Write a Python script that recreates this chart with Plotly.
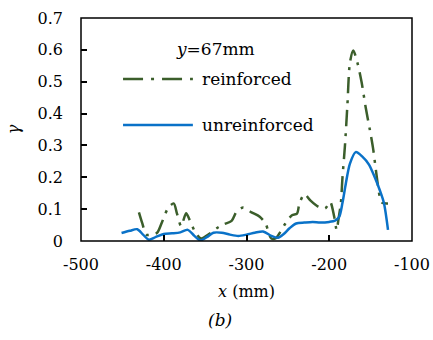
import plotly.graph_objects as go

# unreinforced (blue, solid)
x_unreinforced = [-451, -441, -432, -425, -418, -410, -400, -390, -380, -371, -363, -356, -348,
                  -340, -330, -320, -310, -300, -290, -280, -270, -262, -255, -248, -240, -230,
                  -220, -211, -200, -193, -188, -184, -180, -175, -168, -160, -152, -145, -139,
                  -134, -129]
y_unreinforced = [0.025, 0.032, 0.037, 0.020, 0.004, 0.012, 0.022, 0.024, 0.027, 0.035, 0.016,
                  0.002, 0.012, 0.026, 0.026, 0.020, 0.016, 0.020, 0.026, 0.030, 0.016, 0.010,
                  0.022, 0.040, 0.055, 0.058, 0.060, 0.058, 0.060, 0.064, 0.076, 0.120, 0.180,
                  0.243, 0.279, 0.265, 0.240, 0.200, 0.160, 0.120, 0.035]

# reinforced (green, dash-dot)
x_reinforced = [-430, -426, -421, -415, -408, -402, -395, -388, -384, -379, -373, -369, -362,
                -355, -344, -336, -328, -318, -312, -304, -294, -284, -277, -270, -264, -259,
                -253, -245, -239, -236, -230, -223, -214, -205, -199, -194, -191, -189, -186,
                -184, -181, -178, -175, -171, -166, -161, -156, -151, -147, -143, -139, -136,
                -129]
y_reinforced = [0.090, 0.056, 0.020, 0.020, 0.026, 0.060, 0.102, 0.118, 0.086, 0.047, 0.087,
                0.068, 0.028, 0.008, 0.024, 0.040, 0.052, 0.063, 0.092, 0.105, 0.090, 0.076,
                0.055, 0.008, 0.010, 0.029, 0.055, 0.081, 0.086, 0.118, 0.147, 0.128, 0.109,
                0.102, 0.123, 0.076, 0.034, 0.066, 0.118, 0.200, 0.300, 0.430, 0.560, 0.598,
                0.560, 0.500, 0.420, 0.350, 0.290, 0.210, 0.140, 0.120, 0.118]

x_ticks = [-500, -400, -300, -200, -100]
y_ticks = [0, 0.1, 0.2, 0.3, 0.4, 0.5, 0.6, 0.7]

GREEN = "#3B5E2B"
BLUE = "#0A72C8"
FONT = "DejaVu Serif"
DASHDOT = "16px,7px,3px,7px"

fig = go.Figure()
fig.add_trace(go.Scatter(x=x_reinforced, y=y_reinforced, mode="lines", name="reinforced",
                         line=dict(color=GREEN, width=2.5, dash=DASHDOT, shape="spline", smoothing=0.8),
                         showlegend=False))
fig.add_trace(go.Scatter(x=x_unreinforced, y=y_unreinforced, mode="lines", name="unreinforced",
                         line=dict(color=BLUE, width=2.5, shape="spline", smoothing=0.8),
                         showlegend=False))

# plot frame
fig.add_shape(type="rect", xref="paper", yref="paper", x0=0, x1=1, y0=0, y1=1,
              line=dict(color="black", width=1.5), layer="above")

# legend samples (drawn manually to match the original look)
fig.add_shape(type="line", xref="paper", yref="paper", x0=0.127, x1=0.338, y0=0.726, y1=0.726,
              line=dict(color=GREEN, width=2.5, dash="20px,8px,3px,8px"))
fig.add_shape(type="line", xref="paper", yref="paper", x0=0.127, x1=0.338, y0=0.52, y1=0.52,
              line=dict(color=BLUE, width=2.5))
fig.add_annotation(xref="paper", yref="paper", x=0.36, y=0.726, text="reinforced",
                   showarrow=False, xanchor="left", yanchor="middle",
                   font=dict(family=FONT, size=17, color="black"))
fig.add_annotation(xref="paper", yref="paper", x=0.36, y=0.52, text="unreinforced",
                   showarrow=False, xanchor="left", yanchor="middle",
                   font=dict(family=FONT, size=17, color="black"))
fig.add_annotation(xref="paper", yref="paper", x=0.405, y=0.86, text="<i>y</i>=67mm",
                   showarrow=False, xanchor="center", yanchor="middle",
                   font=dict(family=FONT, size=17, color="black"))
# panel label
fig.add_annotation(xref="paper", yref="paper", x=0.42, y=-0.355, text="<i>(b)</i>",
                   showarrow=False, xanchor="center", yanchor="middle",
                   font=dict(family=FONT, size=17, color="black"))

fig.update_layout(
    width=433, height=340,
    margin=dict(l=81, r=21, t=18, b=99),
    paper_bgcolor="white", plot_bgcolor="white",
    font=dict(family=FONT, size=16, color="black"),
    xaxis=dict(range=[-500, -100], tickvals=x_ticks, ticktext=[str(v) for v in x_ticks],
               automargin=False,
               showgrid=False, zeroline=False, showline=False,
               ticks="inside", ticklen=6, tickwidth=1.5,
               tickcolor="black", ticklabelstandoff=12,
               title=dict(text="<i>x</i> (mm)", standoff=12, font=dict(size=16))),
    yaxis=dict(range=[0, 0.7], tickvals=y_ticks, ticktext=["0", "0.1", "0.2", "0.3", "0.4", "0.5", "0.6", "0.7"],
               automargin=False,
               showgrid=False, zeroline=False, showline=False,
               ticks="inside", ticklen=6, tickwidth=1.5,
               tickcolor="black", ticklabelstandoff=17,
               title=dict(text="<i>γ</i>", standoff=13, font=dict(size=16))),
)

fig.write_html("out.html", config={"displayModeBar": False},
               post_script="document.body.style.margin='0px';")
